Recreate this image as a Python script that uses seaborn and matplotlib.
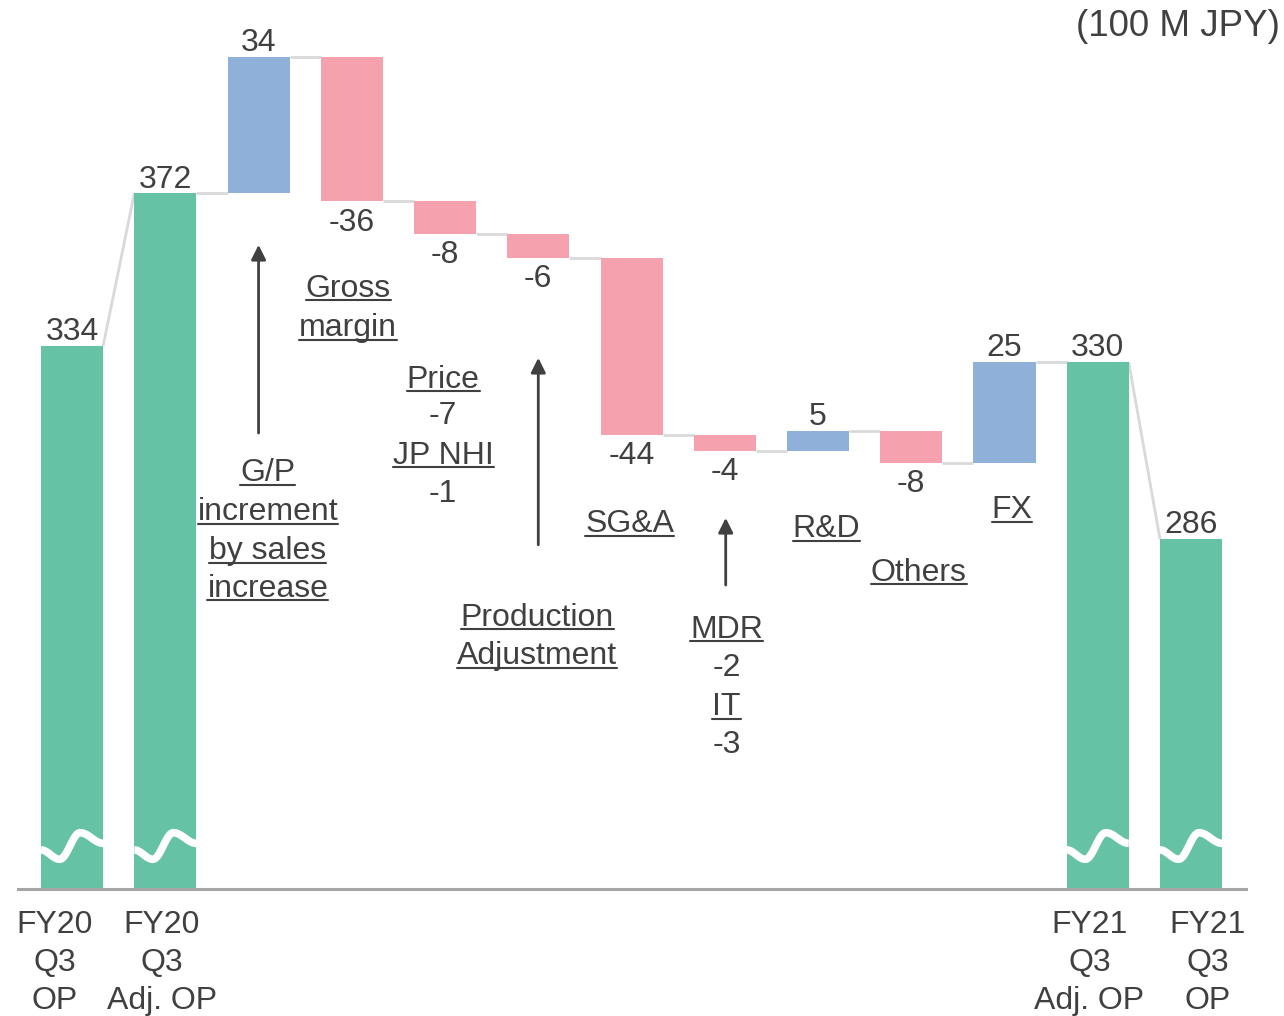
import numpy as np
import pandas as pd
import seaborn as sns
import matplotlib.pyplot as plt
from matplotlib.lines import Line2D

# ---- data ----
steps = ['FY20 Q3 OP', 'FY20 Q3 Adj. OP', 'G/P increment', 'Gross margin', 'Price / JP NHI',
         'Production Adjustment', 'SG&A', 'MDR / IT', 'R&D', 'Others', 'FX',
         'FY21 Q3 Adj. OP', 'FY21 Q3 OP']
values = [334, 372, 34, -36, -8, -6, -44, -4, 5, -8, 25, 330, 286]
is_total = [True, True, False, False, False, False, False, False, False, False, False, True, True]

# bottom labels for the total bars (bar index -> lines)
total_labels = {0: ['FY20', 'Q3', 'OP'], 1: ['FY20', 'Q3', 'Adj. OP'],
                11: ['FY21', 'Q3', 'Adj. OP'], 12: ['FY21', 'Q3', 'OP']}
unit_label = '(100 M JPY)'

TXT = '#404040'
FS = 23
palette = {'total': '#66c2a5', 'up': '#8fb1d9', 'down': '#f5a2ae'}

# ---- waterfall geometry ----
level = 0
bottoms, heights, starts, ends, kinds = [], [], [], [], []
for v, tot in zip(values, is_total):
    if tot:
        start = end = v
        bottoms.append(0)
        heights.append(v)
        kinds.append('total')
    else:
        start, end = level, level + v
        bottoms.append(min(start, end))
        heights.append(abs(v))
        kinds.append('up' if v > 0 else 'down')
    level = end
    starts.append(start)
    ends.append(end)

df = pd.DataFrame({'step': steps, 'height': heights, 'kind': kinds})

sns.set_style('white')
plt.rcParams['font.family'] = ['Liberation Sans', 'DejaVu Sans']

fig = plt.figure(figsize=(12.84, 10.16), dpi=100)
ax = fig.add_axes([18 / 1284, 127 / 1016, 1228 / 1284, 889 / 1016])

W = 0.665
sns.barplot(data=df, x='step', y='height', hue='kind', palette=palette, order=steps,
            dodge=False, width=W, linewidth=0, saturation=1, legend=False, ax=ax, zorder=2)

# float the bars to their waterfall bottoms
bars = sorted(ax.patches, key=lambda p: p.get_x())
for p, b in zip(bars, bottoms):
    p.set_y(b)

ax.set_xlim(-0.58, 12.59)
ax.set_ylim(199, 420.1)
ax.set_xticks([])
ax.set_yticks([])
ax.set_xlabel('')
ax.set_ylabel('')
for s in ['top', 'left', 'right']:
    ax.spines[s].set_visible(False)
ax.spines['bottom'].set_color('#a6a6a6')
ax.spines['bottom'].set_linewidth(2.2)

# connectors
for i in range(len(values) - 1):
    ax.plot([i + W / 2, i + 1 - W / 2], [ends[i], starts[i + 1]],
            color='#d9d9d9', lw=2, zorder=1, solid_capstyle='butt')


# axis-break waves on the total bars
def wave(t):
    kx = [0, 0.3, 0.63, 1.0]
    ky = [0.3, 1, -1, -0.2]
    out = np.zeros_like(t)
    for a, b, ya, yb in zip(kx[:-1], kx[1:], ky[:-1], ky[1:]):
        m = (t >= a) & (t <= b)
        s = (t[m] - a) / (b - a)
        out[m] = ya + (yb - ya) * (1 - np.cos(np.pi * s)) / 2
    return out


t = np.linspace(0, 1, 80)
for i, tot in enumerate(is_total):
    if tot:
        ax.plot(i - W / 2 + t * W, 209.7 - 3.3 * wave(t), color='white', lw=5.5,
                solid_capstyle='butt', zorder=3)

# value labels
for i, v in enumerate(values):
    top = bottoms[i] + heights[i]
    if v >= 0:
        ax.annotate(f'{v}', (i, top), xytext=(0, 10), textcoords='offset points',
                    ha='center', va='center', fontsize=FS, color=TXT)
    else:
        ax.annotate(f'{v}', (i, bottoms[i]), xytext=(0, -15.5), textcoords='offset points',
                    ha='center', va='center', fontsize=FS, color=TXT)

# category annotations
ul_texts = []
DY = -0.7


def say(x, y, s, underline=True, **kw):
    tx = ax.text(x, y + DY, s, ha='center', va='center', fontsize=FS, color=TXT,
                 clip_on=False, **kw)
    if underline:
        ul_texts.append(tx)
    return tx


say(2.96, 349.0, 'Gross')
say(2.96, 339.3, 'margin')
for y, s in zip([303.2, 293.5, 283.8, 274.4], ['G/P', 'increment', 'by sales', 'increase']):
    say(2.10, y, s)
say(3.98, 326.4, 'Price')
say(3.98, 317.4, '-7', underline=False)
say(3.98, 307.5, 'JP NHI')
say(3.98, 298.0, '-1', underline=False)
say(4.99, 267.2, 'Production')
say(4.99, 257.7, 'Adjustment')
say(5.98, 290.5, 'SG&A')
say(7.02, 264.2, 'MDR')
say(7.02, 254.7, '-2', underline=False)
say(7.02, 245.0, 'IT')
say(7.02, 235.6, '-3', underline=False)
say(8.09, 289.3, 'R&D')
say(9.08, 278.4, 'Others')
say(10.08, 294.0, 'FX')

# arrows
for x, y0, y1 in [(2.0, 312.4, 359.2), (5.0, 284.6, 331.1), (7.01, 274.6, 291.3)]:
    ax.annotate('', xy=(x, y1), xytext=(x, y0),
                arrowprops=dict(arrowstyle='-|>', color=TXT, lw=2, mutation_scale=22,
                                shrinkA=0, shrinkB=0))

# bottom labels
offsets = {0: -0.19, 1: -0.04, 11: -0.09, 12: 0.18}
for i, lines in total_labels.items():
    for y, s in zip([190.8, 181.3, 171.9], lines):
        say(i + offsets[i], y, s, underline=False)

ax.text(12.95, 413.4, unit_label, ha='right', va='center', fontsize=26.5, color=TXT,
        clip_on=False)

# underlines
fig.canvas.draw()
r = fig.canvas.get_renderer()
inv = fig.transFigure.inverted()
for tx in ul_texts:
    bb = tx.get_window_extent(r)
    yd = bb.y0 + 0.10 * FS * 100 / 72
    (x0, y0), (x1, _) = inv.transform([(bb.x0, yd), (bb.x1, yd)])
    fig.add_artist(Line2D([x0, x1], [y0, y0], color=TXT, lw=1.5))

fig.savefig('out.png', dpi=100)
